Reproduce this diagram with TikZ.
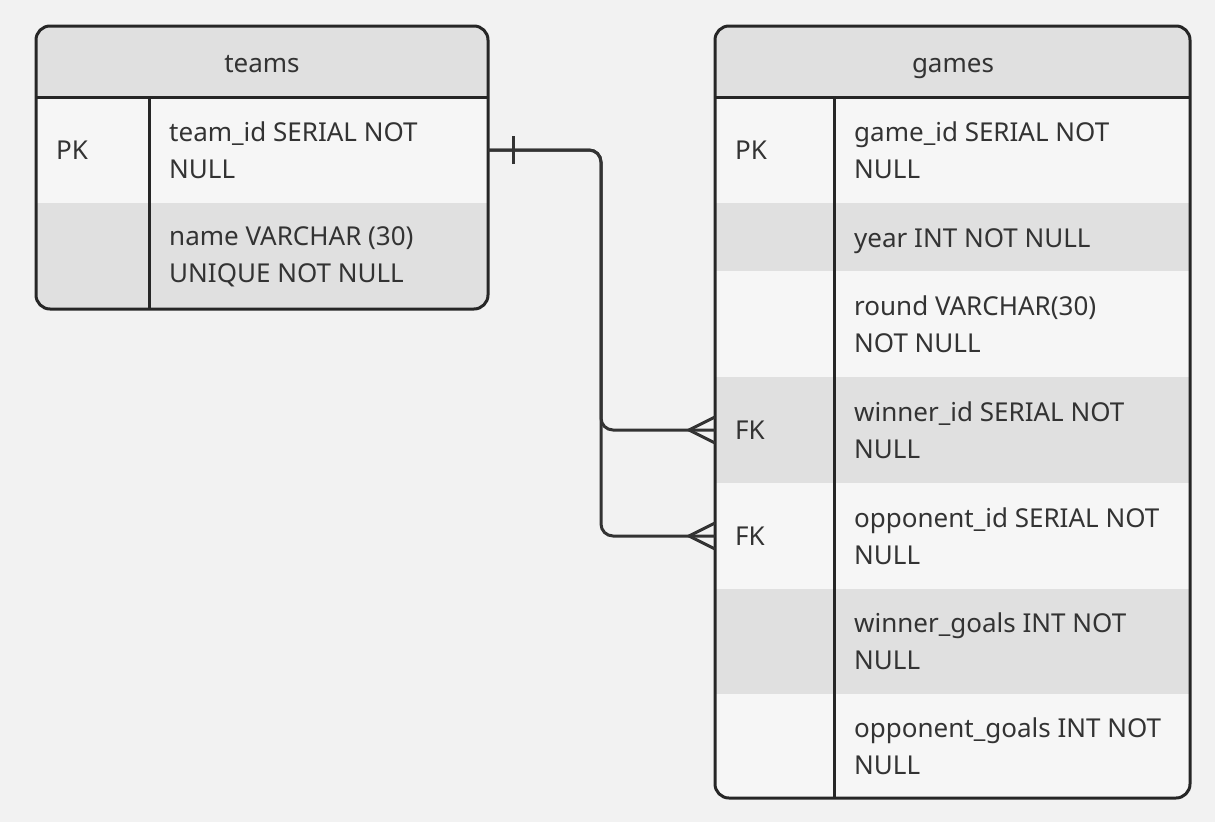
\documentclass[tikz,border=0pt]{standalone}
\usepackage{fontspec}
\setmainfont{Noto Sans}
\definecolor{bg}{HTML}{F2F2F2}
\definecolor{rowlight}{HTML}{F6F6F6}
\definecolor{rowdark}{HTML}{E0E0E0}
\definecolor{ink}{HTML}{333333}
\definecolor{edge}{HTML}{262626}
\begin{document}
\begin{tikzpicture}[x=1pt,y=-1pt,
  cell/.style={rectangle, draw=none, inner sep=0pt, outer sep=0pt, anchor=north west},
  txt/.style={font=\fontsize{26}{37}\selectfont, text=ink, align=left, inner sep=0pt},
  field/.style={txt, anchor=west},
  border/.style={draw=edge, line width=3pt, rounded corners=14pt},
  sep/.style={draw=edge, line width=3pt},
  conn/.style={draw=ink, line width=3pt, rounded corners=12pt}]
\useasboundingbox (0,0) rectangle (1215,822);
\fill[bg] (0,0) rectangle (1215,822);

% ---------- teams ----------
\begin{scope}
\clip[rounded corners=14pt] (36,26) rectangle (488,309);
\node[cell, fill=rowdark, minimum width=452pt, minimum height=71pt] (th) at (36,26) {};
\node[cell, fill=rowlight, minimum width=452pt, minimum height=106pt] (tr1) at (36,97) {};
\node[cell, fill=rowdark, minimum width=452pt, minimum height=106pt] (tr2) at (36,203) {};
\end{scope}
\draw[border] (36,26) rectangle (488,309);
\draw[sep] (36,97) -- (488,97);
\draw[sep] (149,97) -- (149,309);
\node[txt, anchor=base] (tht) at (262,72) {teams};
\node[field] (tk1) at (56,150) {PK};
\node[field] (tf1) at (169,150) {team\_id SERIAL NOT\\NULL};
\node[field] (tf2) at (169,257) {name VARCHAR (30)\\UNIQUE NOT NULL};

% ---------- games ----------
\begin{scope}
\clip[rounded corners=14pt] (715,26) rectangle (1190,798);
\node[cell, fill=rowdark, minimum width=475pt, minimum height=71pt] (gh) at (715,26) {};
\node[cell, fill=rowlight, minimum width=475pt, minimum height=106pt] (gr1) at (715,97) {};
\node[cell, fill=rowdark, minimum width=475pt, minimum height=68pt] (gr2) at (715,203) {};
\node[cell, fill=rowlight, minimum width=475pt, minimum height=106pt] (gr3) at (715,271) {};
\node[cell, fill=rowdark, minimum width=475pt, minimum height=106pt] (gr4) at (715,377) {};
\node[cell, fill=rowlight, minimum width=475pt, minimum height=106pt] (gr5) at (715,483) {};
\node[cell, fill=rowdark, minimum width=475pt, minimum height=105pt] (gr6) at (715,589) {};
\node[cell, fill=rowlight, minimum width=475pt, minimum height=104pt] (gr7) at (715,694) {};
\end{scope}
\draw[border] (715,26) rectangle (1190,798);
\draw[sep] (715,97) -- (1190,97);
\draw[sep] (834,97) -- (834,798);
\node[txt, anchor=base] (ght) at (953,72) {games};
\node[field] (gk1) at (735,150) {PK};
\node[field] (gk4) at (735,430) {FK};
\node[field] (gk5) at (735,536) {FK};
\node[field] (gf1) at (854,150) {game\_id SERIAL NOT\\NULL};
\node[txt, anchor=base west] (gf2) at (854,247) {year INT NOT NULL};
\node[field] (gf3) at (854,324) {round VARCHAR(30)\\NOT NULL};
\node[field] (gf4) at (854,430) {winner\_id SERIAL NOT\\NULL};
\node[field] (gf5) at (854,536) {opponent\_id SERIAL NOT\\NULL};
\node[field] (gf6) at (854,641) {winner\_goals INT NOT\\NULL};
\node[field] (gf7) at (854,746) {opponent\_goals INT NOT\\NULL};

% ---------- relationships ----------
\coordinate (jn) at (601,150);
\draw[conn] (tr1.east) -- (jn) |- (gr4.west);
\draw[conn] (tr1.east) -- (jn) |- (gr5.west);
% one mark
\draw[draw=ink, line width=3pt] ([xshift=25pt,yshift=-14pt]tr1.east) -- ([xshift=25pt,yshift=14pt]tr1.east);
% crow's feet
\draw[draw=ink, line width=3pt] ([yshift=13pt]gr4.west) -- ([xshift=-26pt]gr4.west) -- ([yshift=-13pt]gr4.west);
\draw[draw=ink, line width=3pt] ([yshift=13pt]gr5.west) -- ([xshift=-26pt]gr5.west) -- ([yshift=-13pt]gr5.west);
\end{tikzpicture}
\end{document}
